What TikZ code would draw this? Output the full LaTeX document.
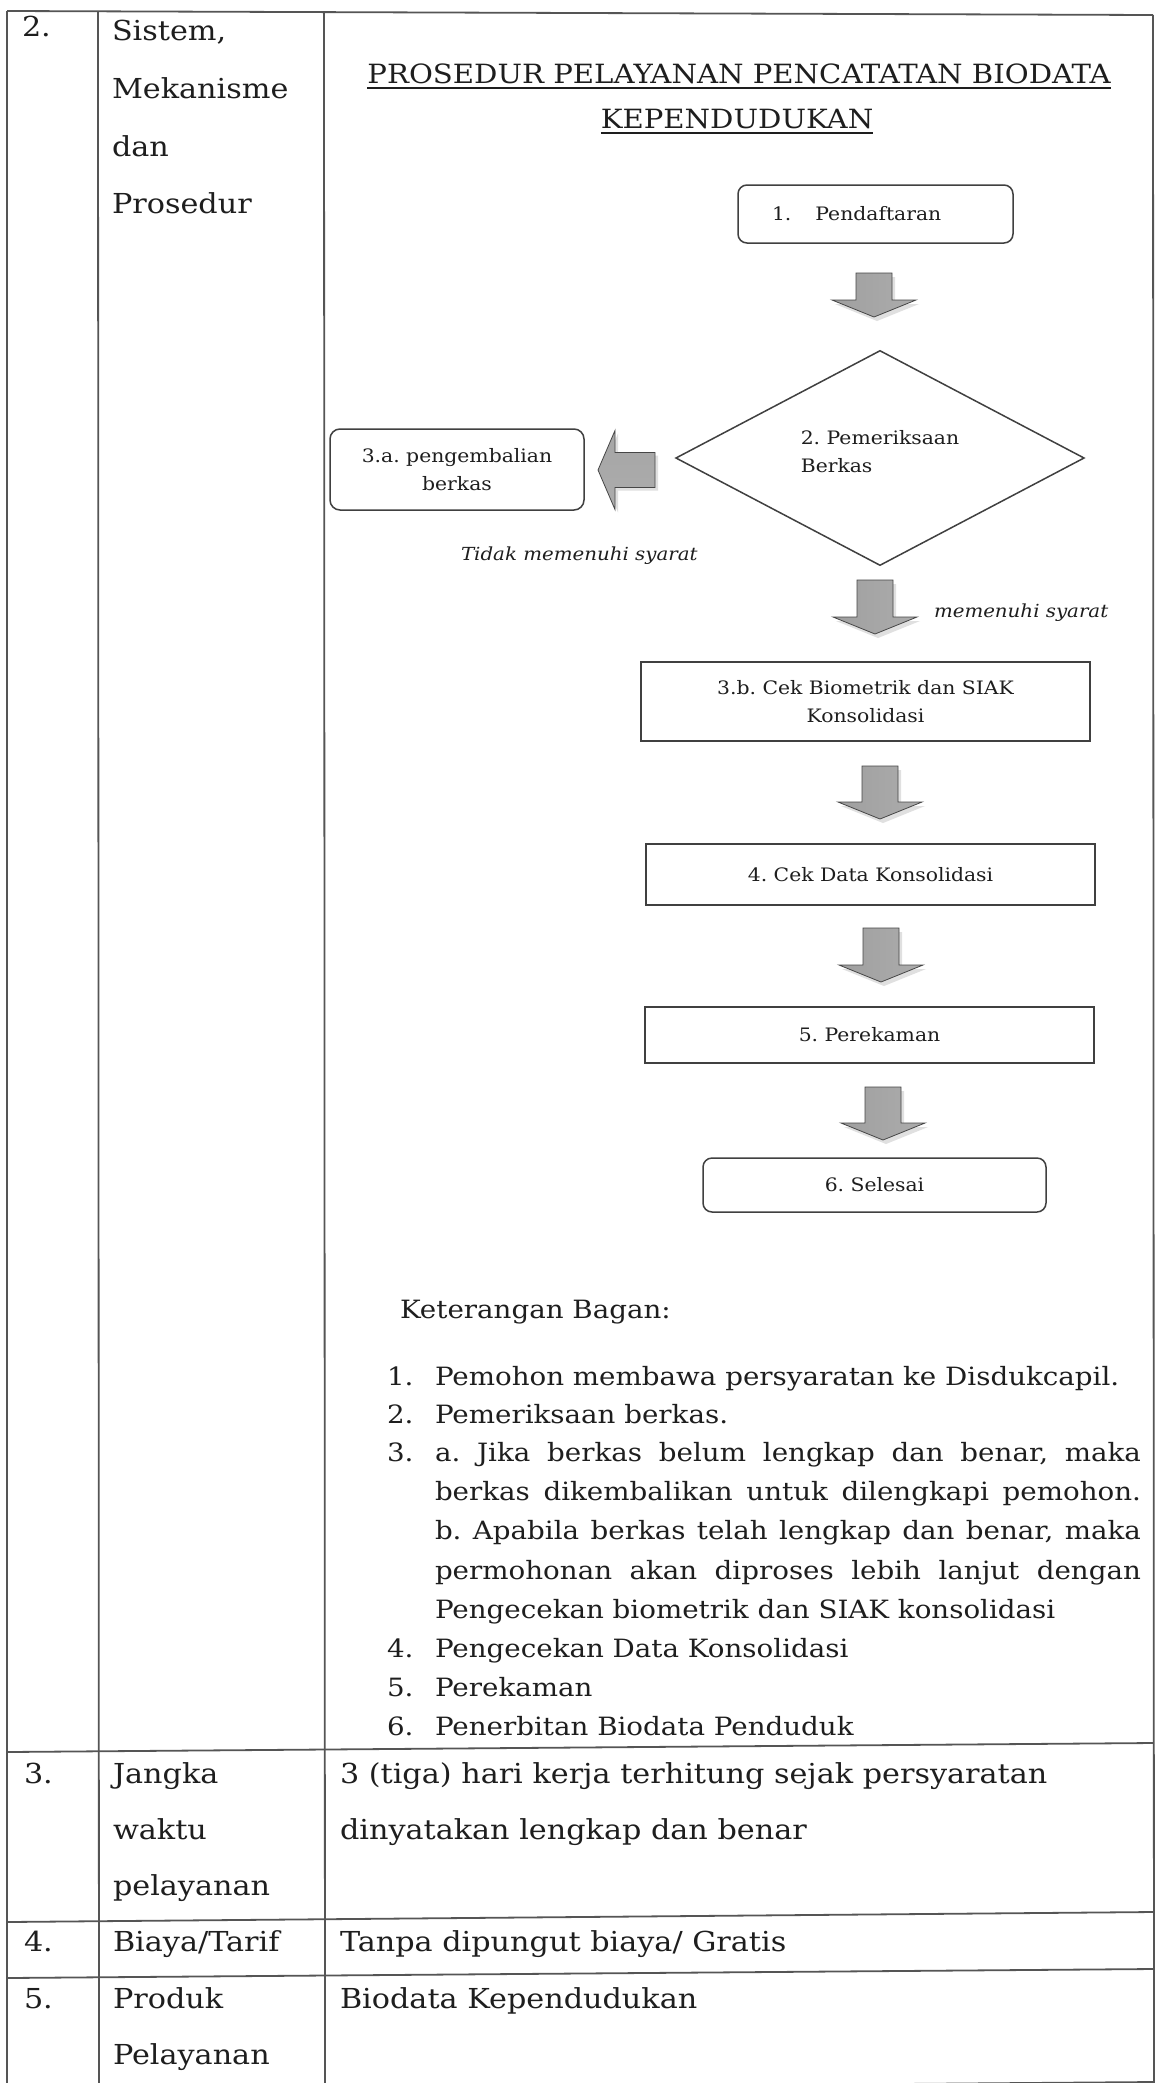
\documentclass[tikz,border=0pt]{standalone}
\usepackage{fontspec}
\usepackage{graphicx}
\setmainfont[FakeStretch=1.1]{DejaVu Serif}
\usetikzlibrary{shapes.geometric}
\definecolor{ink}{HTML}{1E1E1E}
\definecolor{rulec}{HTML}{555555}
\frenchspacing
\newsavebox\jbox
\newcommand\jline[1]{\sbox\jbox{#1}\ifdim\wd\jbox>706pt\resizebox{706pt}{\height}{\usebox\jbox}\else\makebox[706pt][s]{#1}\fi}
\tikzset{
  pics/downarr/.style={code={
    \fill[black!12] (-15,4) -- (21,4) -- (21,#1+4) -- (45,#1+4) -- (3,#1+21) -- (-39,#1+4) -- (-15,#1+4) -- cycle;
    \shade[left color=gray!75, middle color=gray!22, right color=gray!65, draw=gray!55!black, line width=0.8pt]
      (-18,0) -- (18,0) -- (18,#1) -- (42,#1) -- (0,#1+17) -- (-42,#1) -- (-18,#1) -- cycle;
  }},
  pics/leftarr/.style={code={
    \fill[black!12] (3,-14.5) -- (-37,-14.5) -- (-37,-36.5) -- (-54,3) -- (-37,42.5) -- (-37,20.5) -- (3,20.5) -- cycle;
    \shade[top color=gray!70, middle color=gray!22, bottom color=gray!65, draw=gray!55!black, line width=0.8pt]
      (0,-17.5) -- (-40,-17.5) -- (-40,-39.5) -- (-57,0) -- (-40,39.5) -- (-40,17.5) -- (0,17.5) -- cycle;
  }}
}
\begin{document}
\begin{tikzpicture}[x=1pt,y=-1pt,
  every node/.style={inner sep=0pt, outer sep=0pt, text=ink},
  tablerule/.style={draw=rulec, line width=1.8pt},
  cell/.style={anchor=base west, font=\fontsize{27.5}{30}\selectfont},
  flowbox/.style={draw=ink!85, line width=1.5pt, font=\fontsize{18.5}{28}\selectfont, align=center},
  roundbox/.style={flowbox, rounded corners=9pt},
  titletext/.style={anchor=base, font=\fontsize{26.5}{30}\selectfont},
  lab/.style={anchor=base west, font=\fontsize{18}{24}\selectfont\itshape},
  lst/.style={anchor=base west, font=\fontsize{25.2}{30}\selectfont},
  uline/.style={draw=ink, line width=1.6pt}
]
\useasboundingbox (0,0) rectangle (1154,2083);
\fill[white] (0,0) rectangle (1154,2083);

% ---------- table rules ----------
\draw[tablerule] (7,11) -- (1153,15);
\draw[tablerule] (7,11) -- (7,2095);
\draw[tablerule] (98,11) -- (99,2095);
\draw[tablerule] (324,11) -- (325,2095);
\draw[tablerule] (1153,15) -- (1154,2095);
\draw[tablerule] (7,1752) -- (1153,1743);
\draw[tablerule] (7,1922) -- (1153,1912);
\draw[tablerule] (7,1978) -- (1153,1969);
\draw[tablerule] (7,2091) -- (1153,2082);

% ---------- table cells ----------
\node[cell] (no2) at (22,36) {2.};
\node[cell] (c2a) at (112,40) {Sistem,};
\node[cell] (c2b) at (112,98) {Mekanisme};
\node[cell] (c2c) at (112,156) {dan};
\node[cell] (c2d) at (112,213) {Prosedur};

\node[cell] (no3) at (24,1783) {3.};
\node[cell] (c3a) at (113,1783) {Jangka};
\node[cell] (c3b) at (113,1839) {waktu};
\node[cell] (c3c) at (113,1895) {pelayanan};
\node[cell] (v3a) at (340,1783) {3 (tiga) hari kerja terhitung sejak persyaratan};
\node[cell] (v3b) at (340,1839) {dinyatakan lengkap dan benar};

\node[cell] (no4) at (24,1951) {4.};
\node[cell] (c4a) at (113,1951) {Biaya/Tarif};
\node[cell] (v4a) at (340,1951) {Tanpa dipungut biaya/ Gratis};

\node[cell] (no5) at (24,2008) {5.};
\node[cell] (c5a) at (113,2008) {Produk};
\node[cell] (c5b) at (113,2064) {Pelayanan};
\node[cell] (v5a) at (340,2008) {Biodata Kependudukan};

% ---------- title ----------
\node[titletext] (t1) at (739,83) {PROSEDUR PELAYANAN PENCATATAN BIODATA};
\node[titletext] (t2) at (737,128) {KEPENDUDUKAN};
\draw[uline] ([yshift=-5pt]t1.base west) -- ([yshift=-5pt]t1.base east);
\draw[uline] ([yshift=-5pt]t2.base west) -- ([yshift=-5pt]t2.base east);

% ---------- flowchart ----------
\node[roundbox, minimum width=275pt, minimum height=58pt, text width=207pt, inner xsep=34pt, align=left] (n1) at (875.5,214) {1.\hspace{24pt}Pendaftaran};
\node[flowbox, diamond, rounded corners=0pt, minimum width=408pt, minimum height=188pt, align=left, text depth=14pt] (n2) at (880,458) {2. Pemeriksaan\\Berkas};
\node[roundbox, rounded corners=10pt, minimum width=254pt, minimum height=81pt] (n3a) at (457,469.5) {3.a. pengembalian\\berkas};
\node[flowbox, minimum width=449pt, minimum height=79pt] (n3b) at (865.5,701.5) {3.b. Cek Biometrik dan SIAK\\Konsolidasi};
\node[flowbox, minimum width=449pt, minimum height=61pt] (n4) at (870.5,874.5) {4. Cek Data Konsolidasi};
\node[flowbox, minimum width=449pt, minimum height=56pt] (n5) at (869.5,1035) {5. Perekaman};
\node[roundbox, minimum width=343pt, minimum height=54pt] (n6) at (874.5,1185) {6. Selesai};

\pic (a1) at (874,273) {downarr=27};
\pic (a2) at (875,580) {downarr=37};
\pic (a3) at (880,766) {downarr=36};
\pic (a4) at (881,928) {downarr=37};
\pic (a5) at (883,1087) {downarr=36};
\pic (al) at (655,470) {leftarr};

\node[lab] (lno) at (461,560) {Tidak memenuhi syarat};
\node[lab] (lyes) at (934,617) {memenuhi syarat};

% ---------- legend ----------
\node[lst] (kb) at (400,1318) {Keterangan Bagan:};
\node[lst] (k1n) at (387,1385) {1.};
\node[lst] (k1) at (435,1385) {Pemohon membawa persyaratan ke Disdukcapil.};
\node[lst] (k2n) at (387,1423) {2.};
\node[lst] (k2) at (435,1423) {Pemeriksaan berkas.};
\node[lst] (k3n) at (387,1461) {3.};
\node[lst] (k3a) at (435,1461) {\jline{a. Jika berkas belum lengkap dan benar, maka}};
\node[lst] (k3b) at (435,1500) {\jline{berkas dikembalikan untuk dilengkapi pemohon.}};
\node[lst] (k3c) at (435,1539) {\jline{b. Apabila berkas telah lengkap dan benar, maka}};
\node[lst] (k3d) at (435,1579) {\jline{permohonan akan diproses lebih lanjut dengan}};
\node[lst] (k3e) at (435,1618) {Pengecekan biometrik dan SIAK konsolidasi};
\node[lst] (k4n) at (387,1657) {4.};
\node[lst] (k4) at (435,1657) {Pengecekan Data Konsolidasi};
\node[lst] (k5n) at (387,1696) {5.};
\node[lst] (k5) at (435,1696) {Perekaman};
\node[lst] (k6n) at (387,1735) {6.};
\node[lst] (k6) at (435,1735) {Penerbitan Biodata Penduduk};
\end{tikzpicture}
\end{document}
